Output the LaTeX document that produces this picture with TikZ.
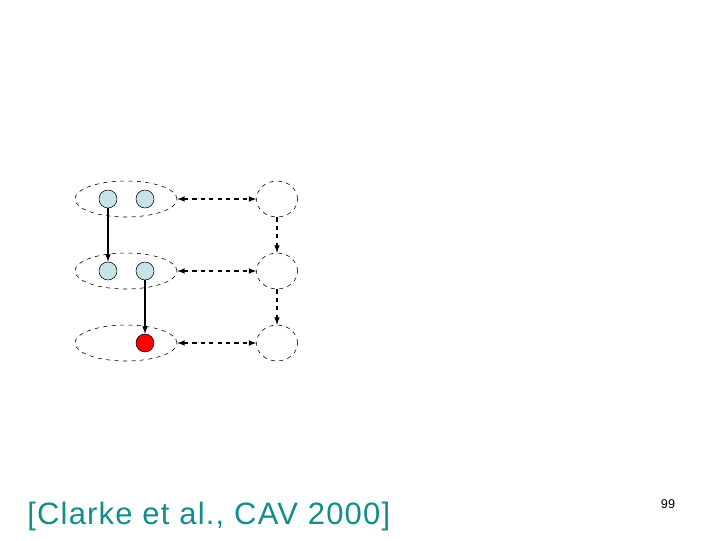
\documentclass[tikz,border=0pt]{standalone}
\usepackage{fontspec}
\setmainfont{Liberation Sans}
\usetikzlibrary{arrows}
\usetikzlibrary{shapes.geometric}
\usetikzlibrary{positioning}
\definecolor{hand}{RGB}{20,140,140}
\definecolor{state}{RGB}{200,228,232}

\begin{document}
\begin{tikzpicture}[x=0.025cm,y=-0.025cm,
        setbig/.style={draw, dashed, ellipse, minimum width=102*0.025cm, minimum height=36*0.025cm},
        setsmall/.style={draw, dashed, ellipse, minimum width=41*0.025cm, minimum height=36*0.025cm},
        st/.style={draw, circle, fill=state, minimum size=18*0.025cm, inner sep=0pt},
        bad/.style={draw, circle, fill=red, minimum size=18*0.025cm, inner sep=0pt},
        abs/.style={-latex, thick, dashed},
        trace/.style={-latex, thick}]
        \useasboundingbox (0,0) rectangle (720,540);

        % Concrete sets
        \node[setbig] (c1) at (126,199) {};
        \node[setbig] (c2) at (126,271) {};
        \node[setbig] (c3) at (126,343) {};

        % Abstract states
        \node[setsmall] (a1) at (277,199) {};
        \node[setsmall] (a2) at (277,271) {};
        \node[setsmall] (a3) at (277,343) {};

        % States
        \node[st] (s11) at (108,199) {};
        \node[st] (s12) at (145,199) {};
        \node[st] (s21) at (108,271) {};
        \node[st] (s22) at (145,271) {};
        \node[bad] (s3) at (145,343) {};

        % Traces
        \draw[trace] (s11) -- (s21);
        \draw[trace] (s22) -- (s3);
        \draw[abs] (a1) -- (a2);
        \draw[abs] (a2) -- (a3);
        \draw[latex-latex, thick, dashed] (c1) -- (a1);
        \draw[latex-latex, thick, dashed] (c2) -- (a2);
        \draw[latex-latex, thick, dashed] (c3) -- (a3);

        \node[anchor=west, text=hand, inner sep=0pt] (cite) at (27,516) {\fontsize{22}{26}\selectfont\addfontfeature{LetterSpace=4}[Clarke et al., CAV 2000]};
        \node[inner sep=0pt] (page) at (668,504) {\fontsize{9}{11}\selectfont 99};
      \end{tikzpicture}
\end{document}
